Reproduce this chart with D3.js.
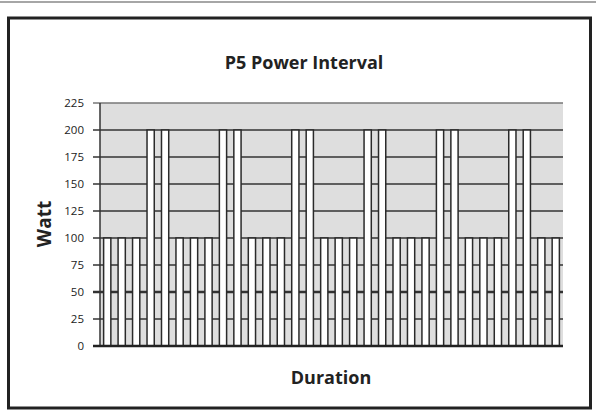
<!DOCTYPE html>
<html>
<head>
<meta charset="utf-8">
<title>P5 Power Interval</title>
<script src="https://cdn.jsdelivr.net/npm/d3@7"></script>
<style>
    body { margin: 0; background: #fff; overflow: hidden; }
    svg { display: block; }
    text { font-family: "Open Sans", "Noto Sans", sans-serif; fill: #222; }
</style>
</head>
<body>
<div id="container"></div>
<script>
    // one bar per interval segment
    var categories = ["1", "2", "3", "4", "5", "6", "7", "8", "9", "10",
        "11", "12", "13", "14", "15", "16", "17", "18", "19", "20",
        "21", "22", "23", "24", "25", "26", "27", "28", "29", "30",
        "31", "32"];
    var watts = [100, 100, 100, 200, 200, 100, 100, 100, 200, 200,
        100, 100, 100, 200, 200, 100, 100, 100, 200, 200,
        100, 100, 100, 200, 200, 100, 100, 100, 200, 200,
        100, 100];
    var yTicks = [0, 25, 50, 75, 100, 125, 150, 175, 200, 225];

    var width = 596, height = 412;
    var plot = { left: 100, right: 563, top: 103, bottom: 346 };

    var svg = d3.select("#container").append("svg")
        .attr("width", width).attr("height", height);

    // frame
    svg.append("line").attr("x1", 0).attr("x2", width).attr("y1", 2).attr("y2", 2)
        .attr("stroke", "#888").attr("stroke-width", 1.5);
    svg.append("rect").attr("x", 8.5).attr("y", 18).attr("width", 582).attr("height", 390)
        .attr("fill", "none").attr("stroke", "#222").attr("stroke-width", 3);

    var x = d3.scaleBand().domain(categories)
        .range([plot.left, plot.right])
        .paddingInner(0.5).paddingOuter(0.25);
    var y = d3.scaleLinear().domain([0, 225]).range([plot.bottom, plot.top]);

    // plot background
    svg.append("rect")
        .attr("x", plot.left).attr("y", plot.top)
        .attr("width", plot.right - plot.left).attr("height", plot.bottom - plot.top)
        .attr("fill", "#dedede");

    // gridlines + ticks
    svg.append("g").selectAll("line").data(yTicks).join("line")
        .attr("x1", plot.left - 7).attr("x2", plot.right)
        .attr("y1", function (d) { return y(d); }).attr("y2", function (d) { return y(d); })
        .attr("stroke", function (d) { return d == 225 ? "#777" : "#333"; })
        .attr("stroke-width", function (d) { return d == 50 ? 2.4 : 1.4; });

    svg.append("g").selectAll("text").data(yTicks).join("text")
        .attr("x", 84).attr("y", function (d) { return y(d); })
        .attr("dy", "0.35em").attr("text-anchor", "end")
        .style("font-size", "11.5px").style("fill", "#222")
        .text(function (d) { return d; });

    // bars
    svg.append("g").selectAll("rect").data(watts).join("rect")
        .attr("x", function (d, i) { return x(categories[i]); })
        .attr("y", function (d) { return y(d); })
        .attr("width", x.bandwidth())
        .attr("height", function (d) { return y(0) - y(d); })
        .attr("fill", "#fff").attr("stroke", "#2a2a2a").attr("stroke-width", 1.5);

    // axes lines
    svg.append("line").attr("x1", plot.left).attr("x2", plot.left)
        .attr("y1", plot.top).attr("y2", plot.bottom)
        .attr("stroke", "#333").attr("stroke-width", 1.5);
    svg.append("line").attr("x1", plot.left - 7).attr("x2", plot.right)
        .attr("y1", plot.bottom).attr("y2", plot.bottom)
        .attr("stroke", "#222").attr("stroke-width", 2.5);

    // titles
    svg.append("text").attr("x", 304).attr("y", 69).attr("text-anchor", "middle")
        .style("font-size", "18px").style("font-weight", "bold")
        .text("P5 Power Interval");
    svg.append("text").attr("x", 331).attr("y", 384).attr("text-anchor", "middle")
        .style("font-size", "18px").style("font-weight", "bold")
        .text("Duration");
    svg.append("text").attr("transform", "translate(51,224) rotate(-90)")
        .attr("text-anchor", "middle")
        .style("font-size", "19px").style("font-weight", "bold")
        .text("Watt");
</script>
</body>
</html>
